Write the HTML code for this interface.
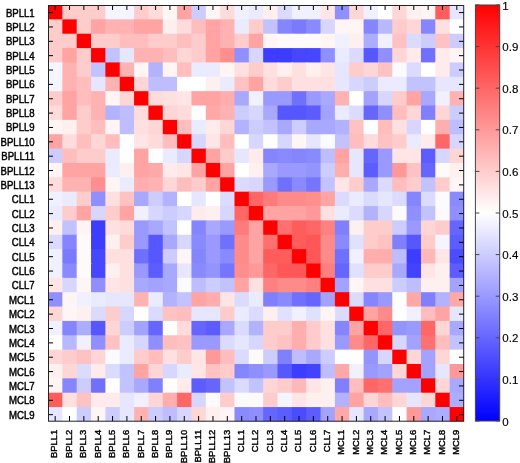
<!DOCTYPE html>
<html><head><meta charset="utf-8"><style>
html,body{margin:0;padding:0;background:#fff;}
body{width:520px;height:463px;overflow:hidden;}
svg{display:block;font-family:"Liberation Sans",sans-serif;font-size:10.5px;fill:#000;filter:blur(0.35px);}
text{stroke:#000;stroke-width:0.45px;}
</style></head><body>
<svg width="520" height="463" viewBox="0 0 520 463">
<rect x="48.00" y="5.00" width="15.34" height="15.36" fill="#ff0000"/>
<rect x="62.34" y="5.00" width="15.34" height="15.36" fill="#ffcccc"/>
<rect x="76.69" y="5.00" width="15.34" height="15.36" fill="#ffcccc"/>
<rect x="91.03" y="5.00" width="15.34" height="15.36" fill="#ffcccc"/>
<rect x="105.38" y="5.00" width="15.34" height="15.36" fill="#f5f5ff"/>
<rect x="119.72" y="5.00" width="15.34" height="15.36" fill="#f5f5ff"/>
<rect x="134.07" y="5.00" width="15.34" height="15.36" fill="#ffcccc"/>
<rect x="148.41" y="5.00" width="15.34" height="15.36" fill="#ffdbdb"/>
<rect x="162.76" y="5.00" width="15.34" height="15.36" fill="#fff5f5"/>
<rect x="177.10" y="5.00" width="15.34" height="15.36" fill="#ffa3a3"/>
<rect x="191.45" y="5.00" width="15.34" height="15.36" fill="#ccccff"/>
<rect x="205.79" y="5.00" width="15.34" height="15.36" fill="#fff5f5"/>
<rect x="220.14" y="5.00" width="15.34" height="15.36" fill="#ffdbdb"/>
<rect x="234.48" y="5.00" width="15.34" height="15.36" fill="#f0f0ff"/>
<rect x="248.83" y="5.00" width="15.34" height="15.36" fill="#ebebff"/>
<rect x="263.17" y="5.00" width="15.34" height="15.36" fill="#fff0f0"/>
<rect x="277.52" y="5.00" width="15.34" height="15.36" fill="#dbdbff"/>
<rect x="291.86" y="5.00" width="15.34" height="15.36" fill="#f0f0ff"/>
<rect x="306.21" y="5.00" width="15.34" height="15.36" fill="#f0f0ff"/>
<rect x="320.55" y="5.00" width="15.34" height="15.36" fill="#ffe5e5"/>
<rect x="334.90" y="5.00" width="15.34" height="15.36" fill="#8f8fff"/>
<rect x="349.24" y="5.00" width="15.34" height="15.36" fill="#ffd6d6"/>
<rect x="363.59" y="5.00" width="15.34" height="15.36" fill="#f0f0ff"/>
<rect x="377.93" y="5.00" width="15.34" height="15.36" fill="#ffffff"/>
<rect x="392.28" y="5.00" width="15.34" height="15.36" fill="#ffd6d6"/>
<rect x="406.62" y="5.00" width="15.34" height="15.36" fill="#fff0f0"/>
<rect x="420.97" y="5.00" width="15.34" height="15.36" fill="#fff5f5"/>
<rect x="435.31" y="5.00" width="15.34" height="15.36" fill="#ff5c5c"/>
<rect x="449.66" y="5.00" width="14.34" height="15.36" fill="#e6e6ff"/>
<rect x="48.00" y="19.36" width="15.34" height="15.36" fill="#ffcccc"/>
<rect x="62.34" y="19.36" width="15.34" height="15.36" fill="#ff0000"/>
<rect x="76.69" y="19.36" width="15.34" height="15.36" fill="#ffcccc"/>
<rect x="91.03" y="19.36" width="15.34" height="15.36" fill="#ffa3a3"/>
<rect x="105.38" y="19.36" width="15.34" height="15.36" fill="#ffb2b2"/>
<rect x="119.72" y="19.36" width="15.34" height="15.36" fill="#ffb2b2"/>
<rect x="134.07" y="19.36" width="15.34" height="15.36" fill="#ffa3a3"/>
<rect x="148.41" y="19.36" width="15.34" height="15.36" fill="#ffa3a3"/>
<rect x="162.76" y="19.36" width="15.34" height="15.36" fill="#fff0f0"/>
<rect x="177.10" y="19.36" width="15.34" height="15.36" fill="#ffdbdb"/>
<rect x="191.45" y="19.36" width="15.34" height="15.36" fill="#ffbdbd"/>
<rect x="205.79" y="19.36" width="15.34" height="15.36" fill="#ffa3a3"/>
<rect x="220.14" y="19.36" width="15.34" height="15.36" fill="#ffb2b2"/>
<rect x="234.48" y="19.36" width="15.34" height="15.36" fill="#ebebff"/>
<rect x="248.83" y="19.36" width="15.34" height="15.36" fill="#ffcccc"/>
<rect x="263.17" y="19.36" width="15.34" height="15.36" fill="#c2c2ff"/>
<rect x="277.52" y="19.36" width="15.34" height="15.36" fill="#8585ff"/>
<rect x="291.86" y="19.36" width="15.34" height="15.36" fill="#7a7aff"/>
<rect x="306.21" y="19.36" width="15.34" height="15.36" fill="#8a8aff"/>
<rect x="320.55" y="19.36" width="15.34" height="15.36" fill="#d6d6ff"/>
<rect x="334.90" y="19.36" width="15.34" height="15.36" fill="#fff5f5"/>
<rect x="349.24" y="19.36" width="15.34" height="15.36" fill="#fff5f5"/>
<rect x="363.59" y="19.36" width="15.34" height="15.36" fill="#8585ff"/>
<rect x="377.93" y="19.36" width="15.34" height="15.36" fill="#b8b8ff"/>
<rect x="392.28" y="19.36" width="15.34" height="15.36" fill="#ffcccc"/>
<rect x="406.62" y="19.36" width="15.34" height="15.36" fill="#ffd6d6"/>
<rect x="420.97" y="19.36" width="15.34" height="15.36" fill="#8585ff"/>
<rect x="435.31" y="19.36" width="15.34" height="15.36" fill="#ffe0e0"/>
<rect x="449.66" y="19.36" width="14.34" height="15.36" fill="#ffffff"/>
<rect x="48.00" y="33.72" width="15.34" height="15.36" fill="#ffcccc"/>
<rect x="62.34" y="33.72" width="15.34" height="15.36" fill="#ffcccc"/>
<rect x="76.69" y="33.72" width="15.34" height="15.36" fill="#ff0000"/>
<rect x="91.03" y="33.72" width="15.34" height="15.36" fill="#ffcccc"/>
<rect x="105.38" y="33.72" width="15.34" height="15.36" fill="#ffcccc"/>
<rect x="119.72" y="33.72" width="15.34" height="15.36" fill="#ffbdbd"/>
<rect x="134.07" y="33.72" width="15.34" height="15.36" fill="#ffbdbd"/>
<rect x="148.41" y="33.72" width="15.34" height="15.36" fill="#ffcccc"/>
<rect x="162.76" y="33.72" width="15.34" height="15.36" fill="#ffcccc"/>
<rect x="177.10" y="33.72" width="15.34" height="15.36" fill="#ffbdbd"/>
<rect x="191.45" y="33.72" width="15.34" height="15.36" fill="#ffcccc"/>
<rect x="205.79" y="33.72" width="15.34" height="15.36" fill="#ffa3a3"/>
<rect x="220.14" y="33.72" width="15.34" height="15.36" fill="#ffb2b2"/>
<rect x="234.48" y="33.72" width="15.34" height="15.36" fill="#ffcccc"/>
<rect x="248.83" y="33.72" width="15.34" height="15.36" fill="#ffa3a3"/>
<rect x="263.17" y="33.72" width="15.34" height="15.36" fill="#fff5f5"/>
<rect x="277.52" y="33.72" width="15.34" height="15.36" fill="#fffafa"/>
<rect x="291.86" y="33.72" width="15.34" height="15.36" fill="#fffafa"/>
<rect x="306.21" y="33.72" width="15.34" height="15.36" fill="#fffafa"/>
<rect x="320.55" y="33.72" width="15.34" height="15.36" fill="#fff5f5"/>
<rect x="334.90" y="33.72" width="15.34" height="15.36" fill="#f0f0ff"/>
<rect x="349.24" y="33.72" width="15.34" height="15.36" fill="#fff0f0"/>
<rect x="363.59" y="33.72" width="15.34" height="15.36" fill="#adadff"/>
<rect x="377.93" y="33.72" width="15.34" height="15.36" fill="#f0f0ff"/>
<rect x="392.28" y="33.72" width="15.34" height="15.36" fill="#ffc2c2"/>
<rect x="406.62" y="33.72" width="15.34" height="15.36" fill="#dbdbff"/>
<rect x="420.97" y="33.72" width="15.34" height="15.36" fill="#ccccff"/>
<rect x="435.31" y="33.72" width="15.34" height="15.36" fill="#ffc2c2"/>
<rect x="449.66" y="33.72" width="14.34" height="15.36" fill="#ccccff"/>
<rect x="48.00" y="48.08" width="15.34" height="15.36" fill="#ffcccc"/>
<rect x="62.34" y="48.08" width="15.34" height="15.36" fill="#ffa3a3"/>
<rect x="76.69" y="48.08" width="15.34" height="15.36" fill="#ffcccc"/>
<rect x="91.03" y="48.08" width="15.34" height="15.36" fill="#ff0000"/>
<rect x="105.38" y="48.08" width="15.34" height="15.36" fill="#c2c2ff"/>
<rect x="119.72" y="48.08" width="15.34" height="15.36" fill="#e6e6ff"/>
<rect x="134.07" y="48.08" width="15.34" height="15.36" fill="#ffb2b2"/>
<rect x="148.41" y="48.08" width="15.34" height="15.36" fill="#ffb2b2"/>
<rect x="162.76" y="48.08" width="15.34" height="15.36" fill="#ffbdbd"/>
<rect x="177.10" y="48.08" width="15.34" height="15.36" fill="#ffd6d6"/>
<rect x="191.45" y="48.08" width="15.34" height="15.36" fill="#ffcccc"/>
<rect x="205.79" y="48.08" width="15.34" height="15.36" fill="#ffa3a3"/>
<rect x="220.14" y="48.08" width="15.34" height="15.36" fill="#ff8f8f"/>
<rect x="234.48" y="48.08" width="15.34" height="15.36" fill="#8f8fff"/>
<rect x="248.83" y="48.08" width="15.34" height="15.36" fill="#d6d6ff"/>
<rect x="263.17" y="48.08" width="15.34" height="15.36" fill="#3d3dff"/>
<rect x="277.52" y="48.08" width="15.34" height="15.36" fill="#3d3dff"/>
<rect x="291.86" y="48.08" width="15.34" height="15.36" fill="#4747ff"/>
<rect x="306.21" y="48.08" width="15.34" height="15.36" fill="#4747ff"/>
<rect x="320.55" y="48.08" width="15.34" height="15.36" fill="#8f8fff"/>
<rect x="334.90" y="48.08" width="15.34" height="15.36" fill="#ebebff"/>
<rect x="349.24" y="48.08" width="15.34" height="15.36" fill="#dbdbff"/>
<rect x="363.59" y="48.08" width="15.34" height="15.36" fill="#5757ff"/>
<rect x="377.93" y="48.08" width="15.34" height="15.36" fill="#8f8fff"/>
<rect x="392.28" y="48.08" width="15.34" height="15.36" fill="#ffd6d6"/>
<rect x="406.62" y="48.08" width="15.34" height="15.36" fill="#ffebeb"/>
<rect x="420.97" y="48.08" width="15.34" height="15.36" fill="#7070ff"/>
<rect x="435.31" y="48.08" width="15.34" height="15.36" fill="#ffebeb"/>
<rect x="449.66" y="48.08" width="14.34" height="15.36" fill="#fff5f5"/>
<rect x="48.00" y="62.44" width="15.34" height="15.36" fill="#f5f5ff"/>
<rect x="62.34" y="62.44" width="15.34" height="15.36" fill="#ffb2b2"/>
<rect x="76.69" y="62.44" width="15.34" height="15.36" fill="#ffcccc"/>
<rect x="91.03" y="62.44" width="15.34" height="15.36" fill="#c2c2ff"/>
<rect x="105.38" y="62.44" width="15.34" height="15.36" fill="#ff0000"/>
<rect x="119.72" y="62.44" width="15.34" height="15.36" fill="#ffb2b2"/>
<rect x="134.07" y="62.44" width="15.34" height="15.36" fill="#fff5f5"/>
<rect x="148.41" y="62.44" width="15.34" height="15.36" fill="#b2b2ff"/>
<rect x="162.76" y="62.44" width="15.34" height="15.36" fill="#fff5f5"/>
<rect x="177.10" y="62.44" width="15.34" height="15.36" fill="#ffbdbd"/>
<rect x="191.45" y="62.44" width="15.34" height="15.36" fill="#ebebff"/>
<rect x="205.79" y="62.44" width="15.34" height="15.36" fill="#ebebff"/>
<rect x="220.14" y="62.44" width="15.34" height="15.36" fill="#fff5f5"/>
<rect x="234.48" y="62.44" width="15.34" height="15.36" fill="#ffe0e0"/>
<rect x="248.83" y="62.44" width="15.34" height="15.36" fill="#ffcccc"/>
<rect x="263.17" y="62.44" width="15.34" height="15.36" fill="#ffe0e0"/>
<rect x="277.52" y="62.44" width="15.34" height="15.36" fill="#fff0f0"/>
<rect x="291.86" y="62.44" width="15.34" height="15.36" fill="#ffe0e0"/>
<rect x="306.21" y="62.44" width="15.34" height="15.36" fill="#fff0f0"/>
<rect x="320.55" y="62.44" width="15.34" height="15.36" fill="#ffe5e5"/>
<rect x="334.90" y="62.44" width="15.34" height="15.36" fill="#e6e6ff"/>
<rect x="349.24" y="62.44" width="15.34" height="15.36" fill="#ffcccc"/>
<rect x="363.59" y="62.44" width="15.34" height="15.36" fill="#ffd6d6"/>
<rect x="377.93" y="62.44" width="15.34" height="15.36" fill="#ffc2c2"/>
<rect x="392.28" y="62.44" width="15.34" height="15.36" fill="#fafaff"/>
<rect x="406.62" y="62.44" width="15.34" height="15.36" fill="#dbdbff"/>
<rect x="420.97" y="62.44" width="15.34" height="15.36" fill="#ffffff"/>
<rect x="435.31" y="62.44" width="15.34" height="15.36" fill="#ffebeb"/>
<rect x="449.66" y="62.44" width="14.34" height="15.36" fill="#ccccff"/>
<rect x="48.00" y="76.80" width="15.34" height="15.36" fill="#f5f5ff"/>
<rect x="62.34" y="76.80" width="15.34" height="15.36" fill="#ffb2b2"/>
<rect x="76.69" y="76.80" width="15.34" height="15.36" fill="#ffbdbd"/>
<rect x="91.03" y="76.80" width="15.34" height="15.36" fill="#e6e6ff"/>
<rect x="105.38" y="76.80" width="15.34" height="15.36" fill="#ffb2b2"/>
<rect x="119.72" y="76.80" width="15.34" height="15.36" fill="#ff0000"/>
<rect x="134.07" y="76.80" width="15.34" height="15.36" fill="#ffd6d6"/>
<rect x="148.41" y="76.80" width="15.34" height="15.36" fill="#bdbdff"/>
<rect x="162.76" y="76.80" width="15.34" height="15.36" fill="#bdbdff"/>
<rect x="177.10" y="76.80" width="15.34" height="15.36" fill="#ffffff"/>
<rect x="191.45" y="76.80" width="15.34" height="15.36" fill="#ffffff"/>
<rect x="205.79" y="76.80" width="15.34" height="15.36" fill="#fff0f0"/>
<rect x="220.14" y="76.80" width="15.34" height="15.36" fill="#ebebff"/>
<rect x="234.48" y="76.80" width="15.34" height="15.36" fill="#ffc2c2"/>
<rect x="248.83" y="76.80" width="15.34" height="15.36" fill="#ffa3a3"/>
<rect x="263.17" y="76.80" width="15.34" height="15.36" fill="#ffdbdb"/>
<rect x="277.52" y="76.80" width="15.34" height="15.36" fill="#ffcccc"/>
<rect x="291.86" y="76.80" width="15.34" height="15.36" fill="#ffe0e0"/>
<rect x="306.21" y="76.80" width="15.34" height="15.36" fill="#ffe0e0"/>
<rect x="320.55" y="76.80" width="15.34" height="15.36" fill="#ffe0e0"/>
<rect x="334.90" y="76.80" width="15.34" height="15.36" fill="#e6e6ff"/>
<rect x="349.24" y="76.80" width="15.34" height="15.36" fill="#d6d6ff"/>
<rect x="363.59" y="76.80" width="15.34" height="15.36" fill="#ccccff"/>
<rect x="377.93" y="76.80" width="15.34" height="15.36" fill="#ebebff"/>
<rect x="392.28" y="76.80" width="15.34" height="15.36" fill="#ebebff"/>
<rect x="406.62" y="76.80" width="15.34" height="15.36" fill="#c2c2ff"/>
<rect x="420.97" y="76.80" width="15.34" height="15.36" fill="#c2c2ff"/>
<rect x="435.31" y="76.80" width="15.34" height="15.36" fill="#e6e6ff"/>
<rect x="449.66" y="76.80" width="14.34" height="15.36" fill="#e6e6ff"/>
<rect x="48.00" y="91.16" width="15.34" height="15.36" fill="#ffcccc"/>
<rect x="62.34" y="91.16" width="15.34" height="15.36" fill="#ffa3a3"/>
<rect x="76.69" y="91.16" width="15.34" height="15.36" fill="#ffbdbd"/>
<rect x="91.03" y="91.16" width="15.34" height="15.36" fill="#ffb2b2"/>
<rect x="105.38" y="91.16" width="15.34" height="15.36" fill="#fff5f5"/>
<rect x="119.72" y="91.16" width="15.34" height="15.36" fill="#ffd6d6"/>
<rect x="134.07" y="91.16" width="15.34" height="15.36" fill="#ff0000"/>
<rect x="148.41" y="91.16" width="15.34" height="15.36" fill="#ffdbdb"/>
<rect x="162.76" y="91.16" width="15.34" height="15.36" fill="#ffe0e0"/>
<rect x="177.10" y="91.16" width="15.34" height="15.36" fill="#ffe5e5"/>
<rect x="191.45" y="91.16" width="15.34" height="15.36" fill="#ffa3a3"/>
<rect x="205.79" y="91.16" width="15.34" height="15.36" fill="#ffa3a3"/>
<rect x="220.14" y="91.16" width="15.34" height="15.36" fill="#ffadad"/>
<rect x="234.48" y="91.16" width="15.34" height="15.36" fill="#a8a8ff"/>
<rect x="248.83" y="91.16" width="15.34" height="15.36" fill="#f0f0ff"/>
<rect x="263.17" y="91.16" width="15.34" height="15.36" fill="#9999ff"/>
<rect x="277.52" y="91.16" width="15.34" height="15.36" fill="#9999ff"/>
<rect x="291.86" y="91.16" width="15.34" height="15.36" fill="#7070ff"/>
<rect x="306.21" y="91.16" width="15.34" height="15.36" fill="#9999ff"/>
<rect x="320.55" y="91.16" width="15.34" height="15.36" fill="#a8a8ff"/>
<rect x="334.90" y="91.16" width="15.34" height="15.36" fill="#ffb2b2"/>
<rect x="349.24" y="91.16" width="15.34" height="15.36" fill="#ffffff"/>
<rect x="363.59" y="91.16" width="15.34" height="15.36" fill="#a3a3ff"/>
<rect x="377.93" y="91.16" width="15.34" height="15.36" fill="#d6d6ff"/>
<rect x="392.28" y="91.16" width="15.34" height="15.36" fill="#ffcccc"/>
<rect x="406.62" y="91.16" width="15.34" height="15.36" fill="#ffa3a3"/>
<rect x="420.97" y="91.16" width="15.34" height="15.36" fill="#a8a8ff"/>
<rect x="435.31" y="91.16" width="15.34" height="15.36" fill="#f0f0ff"/>
<rect x="449.66" y="91.16" width="14.34" height="15.36" fill="#ffb2b2"/>
<rect x="48.00" y="105.52" width="15.34" height="15.36" fill="#ffdbdb"/>
<rect x="62.34" y="105.52" width="15.34" height="15.36" fill="#ffa3a3"/>
<rect x="76.69" y="105.52" width="15.34" height="15.36" fill="#ffcccc"/>
<rect x="91.03" y="105.52" width="15.34" height="15.36" fill="#ffb2b2"/>
<rect x="105.38" y="105.52" width="15.34" height="15.36" fill="#b2b2ff"/>
<rect x="119.72" y="105.52" width="15.34" height="15.36" fill="#bdbdff"/>
<rect x="134.07" y="105.52" width="15.34" height="15.36" fill="#ffdbdb"/>
<rect x="148.41" y="105.52" width="15.34" height="15.36" fill="#ff0000"/>
<rect x="162.76" y="105.52" width="15.34" height="15.36" fill="#ffd6d6"/>
<rect x="177.10" y="105.52" width="15.34" height="15.36" fill="#ffdbdb"/>
<rect x="191.45" y="105.52" width="15.34" height="15.36" fill="#ffffff"/>
<rect x="205.79" y="105.52" width="15.34" height="15.36" fill="#ffa8a8"/>
<rect x="220.14" y="105.52" width="15.34" height="15.36" fill="#ffb2b2"/>
<rect x="234.48" y="105.52" width="15.34" height="15.36" fill="#ccccff"/>
<rect x="248.83" y="105.52" width="15.34" height="15.36" fill="#d6d6ff"/>
<rect x="263.17" y="105.52" width="15.34" height="15.36" fill="#a8a8ff"/>
<rect x="277.52" y="105.52" width="15.34" height="15.36" fill="#5757ff"/>
<rect x="291.86" y="105.52" width="15.34" height="15.36" fill="#5757ff"/>
<rect x="306.21" y="105.52" width="15.34" height="15.36" fill="#5c5cff"/>
<rect x="320.55" y="105.52" width="15.34" height="15.36" fill="#a3a3ff"/>
<rect x="334.90" y="105.52" width="15.34" height="15.36" fill="#ebebff"/>
<rect x="349.24" y="105.52" width="15.34" height="15.36" fill="#dbdbff"/>
<rect x="363.59" y="105.52" width="15.34" height="15.36" fill="#6666ff"/>
<rect x="377.93" y="105.52" width="15.34" height="15.36" fill="#8f8fff"/>
<rect x="392.28" y="105.52" width="15.34" height="15.36" fill="#ffbdbd"/>
<rect x="406.62" y="105.52" width="15.34" height="15.36" fill="#ffd6d6"/>
<rect x="420.97" y="105.52" width="15.34" height="15.36" fill="#8080ff"/>
<rect x="435.31" y="105.52" width="15.34" height="15.36" fill="#ffd6d6"/>
<rect x="449.66" y="105.52" width="14.34" height="15.36" fill="#ccccff"/>
<rect x="48.00" y="119.88" width="15.34" height="15.36" fill="#fff5f5"/>
<rect x="62.34" y="119.88" width="15.34" height="15.36" fill="#fff0f0"/>
<rect x="76.69" y="119.88" width="15.34" height="15.36" fill="#ffcccc"/>
<rect x="91.03" y="119.88" width="15.34" height="15.36" fill="#ffbdbd"/>
<rect x="105.38" y="119.88" width="15.34" height="15.36" fill="#fff5f5"/>
<rect x="119.72" y="119.88" width="15.34" height="15.36" fill="#bdbdff"/>
<rect x="134.07" y="119.88" width="15.34" height="15.36" fill="#ffe0e0"/>
<rect x="148.41" y="119.88" width="15.34" height="15.36" fill="#ffd6d6"/>
<rect x="162.76" y="119.88" width="15.34" height="15.36" fill="#ff0000"/>
<rect x="177.10" y="119.88" width="15.34" height="15.36" fill="#ffbdbd"/>
<rect x="191.45" y="119.88" width="15.34" height="15.36" fill="#ebebff"/>
<rect x="205.79" y="119.88" width="15.34" height="15.36" fill="#ffebeb"/>
<rect x="220.14" y="119.88" width="15.34" height="15.36" fill="#ffd6d6"/>
<rect x="234.48" y="119.88" width="15.34" height="15.36" fill="#b2b2ff"/>
<rect x="248.83" y="119.88" width="15.34" height="15.36" fill="#ccccff"/>
<rect x="263.17" y="119.88" width="15.34" height="15.36" fill="#c2c2ff"/>
<rect x="277.52" y="119.88" width="15.34" height="15.36" fill="#a8a8ff"/>
<rect x="291.86" y="119.88" width="15.34" height="15.36" fill="#ccccff"/>
<rect x="306.21" y="119.88" width="15.34" height="15.36" fill="#a8a8ff"/>
<rect x="320.55" y="119.88" width="15.34" height="15.36" fill="#a8a8ff"/>
<rect x="334.90" y="119.88" width="15.34" height="15.36" fill="#b2b2ff"/>
<rect x="349.24" y="119.88" width="15.34" height="15.36" fill="#ffc2c2"/>
<rect x="363.59" y="119.88" width="15.34" height="15.36" fill="#ffffff"/>
<rect x="377.93" y="119.88" width="15.34" height="15.36" fill="#ffbdbd"/>
<rect x="392.28" y="119.88" width="15.34" height="15.36" fill="#ffe0e0"/>
<rect x="406.62" y="119.88" width="15.34" height="15.36" fill="#d6d6ff"/>
<rect x="420.97" y="119.88" width="15.34" height="15.36" fill="#ffffff"/>
<rect x="435.31" y="119.88" width="15.34" height="15.36" fill="#ffadad"/>
<rect x="449.66" y="119.88" width="14.34" height="15.36" fill="#bdbdff"/>
<rect x="48.00" y="134.24" width="15.34" height="15.36" fill="#ffa3a3"/>
<rect x="62.34" y="134.24" width="15.34" height="15.36" fill="#ffdbdb"/>
<rect x="76.69" y="134.24" width="15.34" height="15.36" fill="#ffbdbd"/>
<rect x="91.03" y="134.24" width="15.34" height="15.36" fill="#ffd6d6"/>
<rect x="105.38" y="134.24" width="15.34" height="15.36" fill="#ffbdbd"/>
<rect x="119.72" y="134.24" width="15.34" height="15.36" fill="#ffffff"/>
<rect x="134.07" y="134.24" width="15.34" height="15.36" fill="#ffe5e5"/>
<rect x="148.41" y="134.24" width="15.34" height="15.36" fill="#ffdbdb"/>
<rect x="162.76" y="134.24" width="15.34" height="15.36" fill="#ffbdbd"/>
<rect x="177.10" y="134.24" width="15.34" height="15.36" fill="#ff0000"/>
<rect x="191.45" y="134.24" width="15.34" height="15.36" fill="#d6d6ff"/>
<rect x="205.79" y="134.24" width="15.34" height="15.36" fill="#ffe5e5"/>
<rect x="220.14" y="134.24" width="15.34" height="15.36" fill="#ffbdbd"/>
<rect x="234.48" y="134.24" width="15.34" height="15.36" fill="#ffffff"/>
<rect x="248.83" y="134.24" width="15.34" height="15.36" fill="#d6d6ff"/>
<rect x="263.17" y="134.24" width="15.34" height="15.36" fill="#ffffff"/>
<rect x="277.52" y="134.24" width="15.34" height="15.36" fill="#d6d6ff"/>
<rect x="291.86" y="134.24" width="15.34" height="15.36" fill="#fff5f5"/>
<rect x="306.21" y="134.24" width="15.34" height="15.36" fill="#e6e6ff"/>
<rect x="320.55" y="134.24" width="15.34" height="15.36" fill="#fafaff"/>
<rect x="334.90" y="134.24" width="15.34" height="15.36" fill="#c2c2ff"/>
<rect x="349.24" y="134.24" width="15.34" height="15.36" fill="#ffbdbd"/>
<rect x="363.59" y="134.24" width="15.34" height="15.36" fill="#ffdbdb"/>
<rect x="377.93" y="134.24" width="15.34" height="15.36" fill="#ffc2c2"/>
<rect x="392.28" y="134.24" width="15.34" height="15.36" fill="#ffcccc"/>
<rect x="406.62" y="134.24" width="15.34" height="15.36" fill="#ebebff"/>
<rect x="420.97" y="134.24" width="15.34" height="15.36" fill="#ffebeb"/>
<rect x="435.31" y="134.24" width="15.34" height="15.36" fill="#ff6666"/>
<rect x="449.66" y="134.24" width="14.34" height="15.36" fill="#d6d6ff"/>
<rect x="48.00" y="148.60" width="15.34" height="15.36" fill="#ccccff"/>
<rect x="62.34" y="148.60" width="15.34" height="15.36" fill="#ffbdbd"/>
<rect x="76.69" y="148.60" width="15.34" height="15.36" fill="#ffcccc"/>
<rect x="91.03" y="148.60" width="15.34" height="15.36" fill="#ffcccc"/>
<rect x="105.38" y="148.60" width="15.34" height="15.36" fill="#ebebff"/>
<rect x="119.72" y="148.60" width="15.34" height="15.36" fill="#ffffff"/>
<rect x="134.07" y="148.60" width="15.34" height="15.36" fill="#ffa3a3"/>
<rect x="148.41" y="148.60" width="15.34" height="15.36" fill="#ffffff"/>
<rect x="162.76" y="148.60" width="15.34" height="15.36" fill="#ebebff"/>
<rect x="177.10" y="148.60" width="15.34" height="15.36" fill="#d6d6ff"/>
<rect x="191.45" y="148.60" width="15.34" height="15.36" fill="#ff0000"/>
<rect x="205.79" y="148.60" width="15.34" height="15.36" fill="#ffa3a3"/>
<rect x="220.14" y="148.60" width="15.34" height="15.36" fill="#ffcccc"/>
<rect x="234.48" y="148.60" width="15.34" height="15.36" fill="#e6e6ff"/>
<rect x="248.83" y="148.60" width="15.34" height="15.36" fill="#ffebeb"/>
<rect x="263.17" y="148.60" width="15.34" height="15.36" fill="#8585ff"/>
<rect x="277.52" y="148.60" width="15.34" height="15.36" fill="#8a8aff"/>
<rect x="291.86" y="148.60" width="15.34" height="15.36" fill="#8585ff"/>
<rect x="306.21" y="148.60" width="15.34" height="15.36" fill="#8a8aff"/>
<rect x="320.55" y="148.60" width="15.34" height="15.36" fill="#bdbdff"/>
<rect x="334.90" y="148.60" width="15.34" height="15.36" fill="#ffa3a3"/>
<rect x="349.24" y="148.60" width="15.34" height="15.36" fill="#e6e6ff"/>
<rect x="363.59" y="148.60" width="15.34" height="15.36" fill="#6666ff"/>
<rect x="377.93" y="148.60" width="15.34" height="15.36" fill="#9999ff"/>
<rect x="392.28" y="148.60" width="15.34" height="15.36" fill="#ffe5e5"/>
<rect x="406.62" y="148.60" width="15.34" height="15.36" fill="#ffe5e5"/>
<rect x="420.97" y="148.60" width="15.34" height="15.36" fill="#5c5cff"/>
<rect x="435.31" y="148.60" width="15.34" height="15.36" fill="#d6d6ff"/>
<rect x="449.66" y="148.60" width="14.34" height="15.36" fill="#ffd6d6"/>
<rect x="48.00" y="162.96" width="15.34" height="15.36" fill="#fff5f5"/>
<rect x="62.34" y="162.96" width="15.34" height="15.36" fill="#ffa3a3"/>
<rect x="76.69" y="162.96" width="15.34" height="15.36" fill="#ffa3a3"/>
<rect x="91.03" y="162.96" width="15.34" height="15.36" fill="#ffa3a3"/>
<rect x="105.38" y="162.96" width="15.34" height="15.36" fill="#ebebff"/>
<rect x="119.72" y="162.96" width="15.34" height="15.36" fill="#fff0f0"/>
<rect x="134.07" y="162.96" width="15.34" height="15.36" fill="#ffa3a3"/>
<rect x="148.41" y="162.96" width="15.34" height="15.36" fill="#ffa8a8"/>
<rect x="162.76" y="162.96" width="15.34" height="15.36" fill="#ffebeb"/>
<rect x="177.10" y="162.96" width="15.34" height="15.36" fill="#ffe5e5"/>
<rect x="191.45" y="162.96" width="15.34" height="15.36" fill="#ffa3a3"/>
<rect x="205.79" y="162.96" width="15.34" height="15.36" fill="#ff0000"/>
<rect x="220.14" y="162.96" width="15.34" height="15.36" fill="#ffa3a3"/>
<rect x="234.48" y="162.96" width="15.34" height="15.36" fill="#ffffff"/>
<rect x="248.83" y="162.96" width="15.34" height="15.36" fill="#fff0f0"/>
<rect x="263.17" y="162.96" width="15.34" height="15.36" fill="#a8a8ff"/>
<rect x="277.52" y="162.96" width="15.34" height="15.36" fill="#9999ff"/>
<rect x="291.86" y="162.96" width="15.34" height="15.36" fill="#9999ff"/>
<rect x="306.21" y="162.96" width="15.34" height="15.36" fill="#9494ff"/>
<rect x="320.55" y="162.96" width="15.34" height="15.36" fill="#ccccff"/>
<rect x="334.90" y="162.96" width="15.34" height="15.36" fill="#ffadad"/>
<rect x="349.24" y="162.96" width="15.34" height="15.36" fill="#e6e6ff"/>
<rect x="363.59" y="162.96" width="15.34" height="15.36" fill="#5c5cff"/>
<rect x="377.93" y="162.96" width="15.34" height="15.36" fill="#9999ff"/>
<rect x="392.28" y="162.96" width="15.34" height="15.36" fill="#ff9999"/>
<rect x="406.62" y="162.96" width="15.34" height="15.36" fill="#ffc2c2"/>
<rect x="420.97" y="162.96" width="15.34" height="15.36" fill="#6666ff"/>
<rect x="435.31" y="162.96" width="15.34" height="15.36" fill="#fffafa"/>
<rect x="449.66" y="162.96" width="14.34" height="15.36" fill="#fff0f0"/>
<rect x="48.00" y="177.32" width="15.34" height="15.36" fill="#ffdbdb"/>
<rect x="62.34" y="177.32" width="15.34" height="15.36" fill="#ffb2b2"/>
<rect x="76.69" y="177.32" width="15.34" height="15.36" fill="#ffb2b2"/>
<rect x="91.03" y="177.32" width="15.34" height="15.36" fill="#ff8f8f"/>
<rect x="105.38" y="177.32" width="15.34" height="15.36" fill="#fff5f5"/>
<rect x="119.72" y="177.32" width="15.34" height="15.36" fill="#ebebff"/>
<rect x="134.07" y="177.32" width="15.34" height="15.36" fill="#ffadad"/>
<rect x="148.41" y="177.32" width="15.34" height="15.36" fill="#ffb2b2"/>
<rect x="162.76" y="177.32" width="15.34" height="15.36" fill="#ffd6d6"/>
<rect x="177.10" y="177.32" width="15.34" height="15.36" fill="#ffbdbd"/>
<rect x="191.45" y="177.32" width="15.34" height="15.36" fill="#ffcccc"/>
<rect x="205.79" y="177.32" width="15.34" height="15.36" fill="#ffa3a3"/>
<rect x="220.14" y="177.32" width="15.34" height="15.36" fill="#ff0000"/>
<rect x="234.48" y="177.32" width="15.34" height="15.36" fill="#dbdbff"/>
<rect x="248.83" y="177.32" width="15.34" height="15.36" fill="#d6d6ff"/>
<rect x="263.17" y="177.32" width="15.34" height="15.36" fill="#9999ff"/>
<rect x="277.52" y="177.32" width="15.34" height="15.36" fill="#7070ff"/>
<rect x="291.86" y="177.32" width="15.34" height="15.36" fill="#8a8aff"/>
<rect x="306.21" y="177.32" width="15.34" height="15.36" fill="#7575ff"/>
<rect x="320.55" y="177.32" width="15.34" height="15.36" fill="#c2c2ff"/>
<rect x="334.90" y="177.32" width="15.34" height="15.36" fill="#ffe5e5"/>
<rect x="349.24" y="177.32" width="15.34" height="15.36" fill="#ffcccc"/>
<rect x="363.59" y="177.32" width="15.34" height="15.36" fill="#a8a8ff"/>
<rect x="377.93" y="177.32" width="15.34" height="15.36" fill="#dbdbff"/>
<rect x="392.28" y="177.32" width="15.34" height="15.36" fill="#ffbdbd"/>
<rect x="406.62" y="177.32" width="15.34" height="15.36" fill="#ffcccc"/>
<rect x="420.97" y="177.32" width="15.34" height="15.36" fill="#c2c2ff"/>
<rect x="435.31" y="177.32" width="15.34" height="15.36" fill="#ffcccc"/>
<rect x="449.66" y="177.32" width="14.34" height="15.36" fill="#fff5f5"/>
<rect x="48.00" y="191.68" width="15.34" height="15.36" fill="#f0f0ff"/>
<rect x="62.34" y="191.68" width="15.34" height="15.36" fill="#ebebff"/>
<rect x="76.69" y="191.68" width="15.34" height="15.36" fill="#ffcccc"/>
<rect x="91.03" y="191.68" width="15.34" height="15.36" fill="#8f8fff"/>
<rect x="105.38" y="191.68" width="15.34" height="15.36" fill="#ffe0e0"/>
<rect x="119.72" y="191.68" width="15.34" height="15.36" fill="#ffc2c2"/>
<rect x="134.07" y="191.68" width="15.34" height="15.36" fill="#a8a8ff"/>
<rect x="148.41" y="191.68" width="15.34" height="15.36" fill="#ccccff"/>
<rect x="162.76" y="191.68" width="15.34" height="15.36" fill="#b2b2ff"/>
<rect x="177.10" y="191.68" width="15.34" height="15.36" fill="#ffffff"/>
<rect x="191.45" y="191.68" width="15.34" height="15.36" fill="#e6e6ff"/>
<rect x="205.79" y="191.68" width="15.34" height="15.36" fill="#ffffff"/>
<rect x="220.14" y="191.68" width="15.34" height="15.36" fill="#dbdbff"/>
<rect x="234.48" y="191.68" width="15.34" height="15.36" fill="#ff0000"/>
<rect x="248.83" y="191.68" width="15.34" height="15.36" fill="#ff6666"/>
<rect x="263.17" y="191.68" width="15.34" height="15.36" fill="#ff7a7a"/>
<rect x="277.52" y="191.68" width="15.34" height="15.36" fill="#ff8a8a"/>
<rect x="291.86" y="191.68" width="15.34" height="15.36" fill="#ff8a8a"/>
<rect x="306.21" y="191.68" width="15.34" height="15.36" fill="#ff8f8f"/>
<rect x="320.55" y="191.68" width="15.34" height="15.36" fill="#ffa3a3"/>
<rect x="334.90" y="191.68" width="15.34" height="15.36" fill="#dbdbff"/>
<rect x="349.24" y="191.68" width="15.34" height="15.36" fill="#ebebff"/>
<rect x="363.59" y="191.68" width="15.34" height="15.36" fill="#dbdbff"/>
<rect x="377.93" y="191.68" width="15.34" height="15.36" fill="#e6e6ff"/>
<rect x="392.28" y="191.68" width="15.34" height="15.36" fill="#dbdbff"/>
<rect x="406.62" y="191.68" width="15.34" height="15.36" fill="#8585ff"/>
<rect x="420.97" y="191.68" width="15.34" height="15.36" fill="#dbdbff"/>
<rect x="435.31" y="191.68" width="15.34" height="15.36" fill="#fafaff"/>
<rect x="449.66" y="191.68" width="14.34" height="15.36" fill="#8a8aff"/>
<rect x="48.00" y="206.04" width="15.34" height="15.36" fill="#ebebff"/>
<rect x="62.34" y="206.04" width="15.34" height="15.36" fill="#ffcccc"/>
<rect x="76.69" y="206.04" width="15.34" height="15.36" fill="#ffa3a3"/>
<rect x="91.03" y="206.04" width="15.34" height="15.36" fill="#d6d6ff"/>
<rect x="105.38" y="206.04" width="15.34" height="15.36" fill="#ffcccc"/>
<rect x="119.72" y="206.04" width="15.34" height="15.36" fill="#ffa3a3"/>
<rect x="134.07" y="206.04" width="15.34" height="15.36" fill="#f0f0ff"/>
<rect x="148.41" y="206.04" width="15.34" height="15.36" fill="#d6d6ff"/>
<rect x="162.76" y="206.04" width="15.34" height="15.36" fill="#ccccff"/>
<rect x="177.10" y="206.04" width="15.34" height="15.36" fill="#d6d6ff"/>
<rect x="191.45" y="206.04" width="15.34" height="15.36" fill="#ffebeb"/>
<rect x="205.79" y="206.04" width="15.34" height="15.36" fill="#fff0f0"/>
<rect x="220.14" y="206.04" width="15.34" height="15.36" fill="#d6d6ff"/>
<rect x="234.48" y="206.04" width="15.34" height="15.36" fill="#ff6666"/>
<rect x="248.83" y="206.04" width="15.34" height="15.36" fill="#ff0000"/>
<rect x="263.17" y="206.04" width="15.34" height="15.36" fill="#ffa3a3"/>
<rect x="277.52" y="206.04" width="15.34" height="15.36" fill="#ffa3a3"/>
<rect x="291.86" y="206.04" width="15.34" height="15.36" fill="#ffa3a3"/>
<rect x="306.21" y="206.04" width="15.34" height="15.36" fill="#ff9999"/>
<rect x="320.55" y="206.04" width="15.34" height="15.36" fill="#ffe0e0"/>
<rect x="334.90" y="206.04" width="15.34" height="15.36" fill="#ebebff"/>
<rect x="349.24" y="206.04" width="15.34" height="15.36" fill="#dbdbff"/>
<rect x="363.59" y="206.04" width="15.34" height="15.36" fill="#b2b2ff"/>
<rect x="377.93" y="206.04" width="15.34" height="15.36" fill="#d6d6ff"/>
<rect x="392.28" y="206.04" width="15.34" height="15.36" fill="#fffafa"/>
<rect x="406.62" y="206.04" width="15.34" height="15.36" fill="#8f8fff"/>
<rect x="420.97" y="206.04" width="15.34" height="15.36" fill="#c2c2ff"/>
<rect x="435.31" y="206.04" width="15.34" height="15.36" fill="#fffafa"/>
<rect x="449.66" y="206.04" width="14.34" height="15.36" fill="#8f8fff"/>
<rect x="48.00" y="220.40" width="15.34" height="15.36" fill="#fff0f0"/>
<rect x="62.34" y="220.40" width="15.34" height="15.36" fill="#c2c2ff"/>
<rect x="76.69" y="220.40" width="15.34" height="15.36" fill="#fff5f5"/>
<rect x="91.03" y="220.40" width="15.34" height="15.36" fill="#3d3dff"/>
<rect x="105.38" y="220.40" width="15.34" height="15.36" fill="#ffe0e0"/>
<rect x="119.72" y="220.40" width="15.34" height="15.36" fill="#ffdbdb"/>
<rect x="134.07" y="220.40" width="15.34" height="15.36" fill="#9999ff"/>
<rect x="148.41" y="220.40" width="15.34" height="15.36" fill="#a8a8ff"/>
<rect x="162.76" y="220.40" width="15.34" height="15.36" fill="#c2c2ff"/>
<rect x="177.10" y="220.40" width="15.34" height="15.36" fill="#ffffff"/>
<rect x="191.45" y="220.40" width="15.34" height="15.36" fill="#8585ff"/>
<rect x="205.79" y="220.40" width="15.34" height="15.36" fill="#a8a8ff"/>
<rect x="220.14" y="220.40" width="15.34" height="15.36" fill="#9999ff"/>
<rect x="234.48" y="220.40" width="15.34" height="15.36" fill="#ff7a7a"/>
<rect x="248.83" y="220.40" width="15.34" height="15.36" fill="#ffa3a3"/>
<rect x="263.17" y="220.40" width="15.34" height="15.36" fill="#ff0000"/>
<rect x="277.52" y="220.40" width="15.34" height="15.36" fill="#ff7070"/>
<rect x="291.86" y="220.40" width="15.34" height="15.36" fill="#ff5c5c"/>
<rect x="306.21" y="220.40" width="15.34" height="15.36" fill="#ff6666"/>
<rect x="320.55" y="220.40" width="15.34" height="15.36" fill="#ff8080"/>
<rect x="334.90" y="220.40" width="15.34" height="15.36" fill="#8080ff"/>
<rect x="349.24" y="220.40" width="15.34" height="15.36" fill="#fff0f0"/>
<rect x="363.59" y="220.40" width="15.34" height="15.36" fill="#ffcccc"/>
<rect x="377.93" y="220.40" width="15.34" height="15.36" fill="#ffcccc"/>
<rect x="392.28" y="220.40" width="15.34" height="15.36" fill="#ccccff"/>
<rect x="406.62" y="220.40" width="15.34" height="15.36" fill="#9999ff"/>
<rect x="420.97" y="220.40" width="15.34" height="15.36" fill="#ffd6d6"/>
<rect x="435.31" y="220.40" width="15.34" height="15.36" fill="#ffcccc"/>
<rect x="449.66" y="220.40" width="14.34" height="15.36" fill="#6666ff"/>
<rect x="48.00" y="234.76" width="15.34" height="15.36" fill="#dbdbff"/>
<rect x="62.34" y="234.76" width="15.34" height="15.36" fill="#8585ff"/>
<rect x="76.69" y="234.76" width="15.34" height="15.36" fill="#fffafa"/>
<rect x="91.03" y="234.76" width="15.34" height="15.36" fill="#3d3dff"/>
<rect x="105.38" y="234.76" width="15.34" height="15.36" fill="#fff0f0"/>
<rect x="119.72" y="234.76" width="15.34" height="15.36" fill="#ffcccc"/>
<rect x="134.07" y="234.76" width="15.34" height="15.36" fill="#9999ff"/>
<rect x="148.41" y="234.76" width="15.34" height="15.36" fill="#5757ff"/>
<rect x="162.76" y="234.76" width="15.34" height="15.36" fill="#a8a8ff"/>
<rect x="177.10" y="234.76" width="15.34" height="15.36" fill="#d6d6ff"/>
<rect x="191.45" y="234.76" width="15.34" height="15.36" fill="#8a8aff"/>
<rect x="205.79" y="234.76" width="15.34" height="15.36" fill="#9999ff"/>
<rect x="220.14" y="234.76" width="15.34" height="15.36" fill="#7070ff"/>
<rect x="234.48" y="234.76" width="15.34" height="15.36" fill="#ff8a8a"/>
<rect x="248.83" y="234.76" width="15.34" height="15.36" fill="#ffa3a3"/>
<rect x="263.17" y="234.76" width="15.34" height="15.36" fill="#ff7070"/>
<rect x="277.52" y="234.76" width="15.34" height="15.36" fill="#ff0000"/>
<rect x="291.86" y="234.76" width="15.34" height="15.36" fill="#ff5c5c"/>
<rect x="306.21" y="234.76" width="15.34" height="15.36" fill="#ff5757"/>
<rect x="320.55" y="234.76" width="15.34" height="15.36" fill="#ff8a8a"/>
<rect x="334.90" y="234.76" width="15.34" height="15.36" fill="#8a8aff"/>
<rect x="349.24" y="234.76" width="15.34" height="15.36" fill="#e0e0ff"/>
<rect x="363.59" y="234.76" width="15.34" height="15.36" fill="#ffcccc"/>
<rect x="377.93" y="234.76" width="15.34" height="15.36" fill="#ffc2c2"/>
<rect x="392.28" y="234.76" width="15.34" height="15.36" fill="#8080ff"/>
<rect x="406.62" y="234.76" width="15.34" height="15.36" fill="#5757ff"/>
<rect x="420.97" y="234.76" width="15.34" height="15.36" fill="#ffcccc"/>
<rect x="435.31" y="234.76" width="15.34" height="15.36" fill="#f5f5ff"/>
<rect x="449.66" y="234.76" width="14.34" height="15.36" fill="#5c5cff"/>
<rect x="48.00" y="249.12" width="15.34" height="15.36" fill="#f0f0ff"/>
<rect x="62.34" y="249.12" width="15.34" height="15.36" fill="#7a7aff"/>
<rect x="76.69" y="249.12" width="15.34" height="15.36" fill="#fffafa"/>
<rect x="91.03" y="249.12" width="15.34" height="15.36" fill="#4747ff"/>
<rect x="105.38" y="249.12" width="15.34" height="15.36" fill="#ffe0e0"/>
<rect x="119.72" y="249.12" width="15.34" height="15.36" fill="#ffe0e0"/>
<rect x="134.07" y="249.12" width="15.34" height="15.36" fill="#7070ff"/>
<rect x="148.41" y="249.12" width="15.34" height="15.36" fill="#5757ff"/>
<rect x="162.76" y="249.12" width="15.34" height="15.36" fill="#ccccff"/>
<rect x="177.10" y="249.12" width="15.34" height="15.36" fill="#fff5f5"/>
<rect x="191.45" y="249.12" width="15.34" height="15.36" fill="#8585ff"/>
<rect x="205.79" y="249.12" width="15.34" height="15.36" fill="#9999ff"/>
<rect x="220.14" y="249.12" width="15.34" height="15.36" fill="#8a8aff"/>
<rect x="234.48" y="249.12" width="15.34" height="15.36" fill="#ff8a8a"/>
<rect x="248.83" y="249.12" width="15.34" height="15.36" fill="#ffa3a3"/>
<rect x="263.17" y="249.12" width="15.34" height="15.36" fill="#ff5c5c"/>
<rect x="277.52" y="249.12" width="15.34" height="15.36" fill="#ff5c5c"/>
<rect x="291.86" y="249.12" width="15.34" height="15.36" fill="#ff0000"/>
<rect x="306.21" y="249.12" width="15.34" height="15.36" fill="#ff5757"/>
<rect x="320.55" y="249.12" width="15.34" height="15.36" fill="#ff8a8a"/>
<rect x="334.90" y="249.12" width="15.34" height="15.36" fill="#7070ff"/>
<rect x="349.24" y="249.12" width="15.34" height="15.36" fill="#f0f0ff"/>
<rect x="363.59" y="249.12" width="15.34" height="15.36" fill="#ffadad"/>
<rect x="377.93" y="249.12" width="15.34" height="15.36" fill="#ffadad"/>
<rect x="392.28" y="249.12" width="15.34" height="15.36" fill="#bdbdff"/>
<rect x="406.62" y="249.12" width="15.34" height="15.36" fill="#3d3dff"/>
<rect x="420.97" y="249.12" width="15.34" height="15.36" fill="#ffb8b8"/>
<rect x="435.31" y="249.12" width="15.34" height="15.36" fill="#ffe5e5"/>
<rect x="449.66" y="249.12" width="14.34" height="15.36" fill="#4c4cff"/>
<rect x="48.00" y="263.48" width="15.34" height="15.36" fill="#f0f0ff"/>
<rect x="62.34" y="263.48" width="15.34" height="15.36" fill="#8a8aff"/>
<rect x="76.69" y="263.48" width="15.34" height="15.36" fill="#fffafa"/>
<rect x="91.03" y="263.48" width="15.34" height="15.36" fill="#4747ff"/>
<rect x="105.38" y="263.48" width="15.34" height="15.36" fill="#fff0f0"/>
<rect x="119.72" y="263.48" width="15.34" height="15.36" fill="#ffe0e0"/>
<rect x="134.07" y="263.48" width="15.34" height="15.36" fill="#9999ff"/>
<rect x="148.41" y="263.48" width="15.34" height="15.36" fill="#5c5cff"/>
<rect x="162.76" y="263.48" width="15.34" height="15.36" fill="#a8a8ff"/>
<rect x="177.10" y="263.48" width="15.34" height="15.36" fill="#e6e6ff"/>
<rect x="191.45" y="263.48" width="15.34" height="15.36" fill="#8a8aff"/>
<rect x="205.79" y="263.48" width="15.34" height="15.36" fill="#9494ff"/>
<rect x="220.14" y="263.48" width="15.34" height="15.36" fill="#7575ff"/>
<rect x="234.48" y="263.48" width="15.34" height="15.36" fill="#ff8f8f"/>
<rect x="248.83" y="263.48" width="15.34" height="15.36" fill="#ff9999"/>
<rect x="263.17" y="263.48" width="15.34" height="15.36" fill="#ff6666"/>
<rect x="277.52" y="263.48" width="15.34" height="15.36" fill="#ff5757"/>
<rect x="291.86" y="263.48" width="15.34" height="15.36" fill="#ff5757"/>
<rect x="306.21" y="263.48" width="15.34" height="15.36" fill="#ff0000"/>
<rect x="320.55" y="263.48" width="15.34" height="15.36" fill="#ff8080"/>
<rect x="334.90" y="263.48" width="15.34" height="15.36" fill="#6666ff"/>
<rect x="349.24" y="263.48" width="15.34" height="15.36" fill="#e0e0ff"/>
<rect x="363.59" y="263.48" width="15.34" height="15.36" fill="#ffcccc"/>
<rect x="377.93" y="263.48" width="15.34" height="15.36" fill="#ffcccc"/>
<rect x="392.28" y="263.48" width="15.34" height="15.36" fill="#a8a8ff"/>
<rect x="406.62" y="263.48" width="15.34" height="15.36" fill="#4242ff"/>
<rect x="420.97" y="263.48" width="15.34" height="15.36" fill="#ffe5e5"/>
<rect x="435.31" y="263.48" width="15.34" height="15.36" fill="#fff0f0"/>
<rect x="449.66" y="263.48" width="14.34" height="15.36" fill="#5c5cff"/>
<rect x="48.00" y="277.84" width="15.34" height="15.36" fill="#ffe5e5"/>
<rect x="62.34" y="277.84" width="15.34" height="15.36" fill="#d6d6ff"/>
<rect x="76.69" y="277.84" width="15.34" height="15.36" fill="#fff5f5"/>
<rect x="91.03" y="277.84" width="15.34" height="15.36" fill="#8f8fff"/>
<rect x="105.38" y="277.84" width="15.34" height="15.36" fill="#ffe5e5"/>
<rect x="119.72" y="277.84" width="15.34" height="15.36" fill="#ffe0e0"/>
<rect x="134.07" y="277.84" width="15.34" height="15.36" fill="#a8a8ff"/>
<rect x="148.41" y="277.84" width="15.34" height="15.36" fill="#a3a3ff"/>
<rect x="162.76" y="277.84" width="15.34" height="15.36" fill="#a8a8ff"/>
<rect x="177.10" y="277.84" width="15.34" height="15.36" fill="#fafaff"/>
<rect x="191.45" y="277.84" width="15.34" height="15.36" fill="#bdbdff"/>
<rect x="205.79" y="277.84" width="15.34" height="15.36" fill="#ccccff"/>
<rect x="220.14" y="277.84" width="15.34" height="15.36" fill="#c2c2ff"/>
<rect x="234.48" y="277.84" width="15.34" height="15.36" fill="#ffa3a3"/>
<rect x="248.83" y="277.84" width="15.34" height="15.36" fill="#ffe0e0"/>
<rect x="263.17" y="277.84" width="15.34" height="15.36" fill="#ff8080"/>
<rect x="277.52" y="277.84" width="15.34" height="15.36" fill="#ff8a8a"/>
<rect x="291.86" y="277.84" width="15.34" height="15.36" fill="#ff8a8a"/>
<rect x="306.21" y="277.84" width="15.34" height="15.36" fill="#ff8080"/>
<rect x="320.55" y="277.84" width="15.34" height="15.36" fill="#ff0000"/>
<rect x="334.90" y="277.84" width="15.34" height="15.36" fill="#a3a3ff"/>
<rect x="349.24" y="277.84" width="15.34" height="15.36" fill="#fff5f5"/>
<rect x="363.59" y="277.84" width="15.34" height="15.36" fill="#ffe0e0"/>
<rect x="377.93" y="277.84" width="15.34" height="15.36" fill="#ffe0e0"/>
<rect x="392.28" y="277.84" width="15.34" height="15.36" fill="#ccccff"/>
<rect x="406.62" y="277.84" width="15.34" height="15.36" fill="#bdbdff"/>
<rect x="420.97" y="277.84" width="15.34" height="15.36" fill="#fff0f0"/>
<rect x="435.31" y="277.84" width="15.34" height="15.36" fill="#fff0f0"/>
<rect x="449.66" y="277.84" width="14.34" height="15.36" fill="#a3a3ff"/>
<rect x="48.00" y="292.20" width="15.34" height="15.36" fill="#8f8fff"/>
<rect x="62.34" y="292.20" width="15.34" height="15.36" fill="#fff5f5"/>
<rect x="76.69" y="292.20" width="15.34" height="15.36" fill="#f0f0ff"/>
<rect x="91.03" y="292.20" width="15.34" height="15.36" fill="#ebebff"/>
<rect x="105.38" y="292.20" width="15.34" height="15.36" fill="#e6e6ff"/>
<rect x="119.72" y="292.20" width="15.34" height="15.36" fill="#e6e6ff"/>
<rect x="134.07" y="292.20" width="15.34" height="15.36" fill="#ffb2b2"/>
<rect x="148.41" y="292.20" width="15.34" height="15.36" fill="#ebebff"/>
<rect x="162.76" y="292.20" width="15.34" height="15.36" fill="#b2b2ff"/>
<rect x="177.10" y="292.20" width="15.34" height="15.36" fill="#c2c2ff"/>
<rect x="191.45" y="292.20" width="15.34" height="15.36" fill="#ffa3a3"/>
<rect x="205.79" y="292.20" width="15.34" height="15.36" fill="#ffadad"/>
<rect x="220.14" y="292.20" width="15.34" height="15.36" fill="#ffe5e5"/>
<rect x="234.48" y="292.20" width="15.34" height="15.36" fill="#dbdbff"/>
<rect x="248.83" y="292.20" width="15.34" height="15.36" fill="#ebebff"/>
<rect x="263.17" y="292.20" width="15.34" height="15.36" fill="#8080ff"/>
<rect x="277.52" y="292.20" width="15.34" height="15.36" fill="#8a8aff"/>
<rect x="291.86" y="292.20" width="15.34" height="15.36" fill="#7070ff"/>
<rect x="306.21" y="292.20" width="15.34" height="15.36" fill="#6666ff"/>
<rect x="320.55" y="292.20" width="15.34" height="15.36" fill="#a3a3ff"/>
<rect x="334.90" y="292.20" width="15.34" height="15.36" fill="#ff0000"/>
<rect x="349.24" y="292.20" width="15.34" height="15.36" fill="#dbdbff"/>
<rect x="363.59" y="292.20" width="15.34" height="15.36" fill="#8585ff"/>
<rect x="377.93" y="292.20" width="15.34" height="15.36" fill="#9999ff"/>
<rect x="392.28" y="292.20" width="15.34" height="15.36" fill="#ffffff"/>
<rect x="406.62" y="292.20" width="15.34" height="15.36" fill="#ffa8a8"/>
<rect x="420.97" y="292.20" width="15.34" height="15.36" fill="#8080ff"/>
<rect x="435.31" y="292.20" width="15.34" height="15.36" fill="#b2b2ff"/>
<rect x="449.66" y="292.20" width="14.34" height="15.36" fill="#ffa8a8"/>
<rect x="48.00" y="306.56" width="15.34" height="15.36" fill="#ffd6d6"/>
<rect x="62.34" y="306.56" width="15.34" height="15.36" fill="#fff5f5"/>
<rect x="76.69" y="306.56" width="15.34" height="15.36" fill="#fff0f0"/>
<rect x="91.03" y="306.56" width="15.34" height="15.36" fill="#dbdbff"/>
<rect x="105.38" y="306.56" width="15.34" height="15.36" fill="#ffcccc"/>
<rect x="119.72" y="306.56" width="15.34" height="15.36" fill="#d6d6ff"/>
<rect x="134.07" y="306.56" width="15.34" height="15.36" fill="#ffffff"/>
<rect x="148.41" y="306.56" width="15.34" height="15.36" fill="#dbdbff"/>
<rect x="162.76" y="306.56" width="15.34" height="15.36" fill="#ffc2c2"/>
<rect x="177.10" y="306.56" width="15.34" height="15.36" fill="#ffbdbd"/>
<rect x="191.45" y="306.56" width="15.34" height="15.36" fill="#e6e6ff"/>
<rect x="205.79" y="306.56" width="15.34" height="15.36" fill="#e6e6ff"/>
<rect x="220.14" y="306.56" width="15.34" height="15.36" fill="#ffcccc"/>
<rect x="234.48" y="306.56" width="15.34" height="15.36" fill="#ebebff"/>
<rect x="248.83" y="306.56" width="15.34" height="15.36" fill="#dbdbff"/>
<rect x="263.17" y="306.56" width="15.34" height="15.36" fill="#fff0f0"/>
<rect x="277.52" y="306.56" width="15.34" height="15.36" fill="#e0e0ff"/>
<rect x="291.86" y="306.56" width="15.34" height="15.36" fill="#f0f0ff"/>
<rect x="306.21" y="306.56" width="15.34" height="15.36" fill="#e0e0ff"/>
<rect x="320.55" y="306.56" width="15.34" height="15.36" fill="#fff5f5"/>
<rect x="334.90" y="306.56" width="15.34" height="15.36" fill="#dbdbff"/>
<rect x="349.24" y="306.56" width="15.34" height="15.36" fill="#ff0000"/>
<rect x="363.59" y="306.56" width="15.34" height="15.36" fill="#ffa3a3"/>
<rect x="377.93" y="306.56" width="15.34" height="15.36" fill="#ff8a8a"/>
<rect x="392.28" y="306.56" width="15.34" height="15.36" fill="#ffffff"/>
<rect x="406.62" y="306.56" width="15.34" height="15.36" fill="#f0f0ff"/>
<rect x="420.97" y="306.56" width="15.34" height="15.36" fill="#ffbdbd"/>
<rect x="435.31" y="306.56" width="15.34" height="15.36" fill="#ffa3a3"/>
<rect x="449.66" y="306.56" width="14.34" height="15.36" fill="#e6e6ff"/>
<rect x="48.00" y="320.92" width="15.34" height="15.36" fill="#f0f0ff"/>
<rect x="62.34" y="320.92" width="15.34" height="15.36" fill="#8585ff"/>
<rect x="76.69" y="320.92" width="15.34" height="15.36" fill="#adadff"/>
<rect x="91.03" y="320.92" width="15.34" height="15.36" fill="#5757ff"/>
<rect x="105.38" y="320.92" width="15.34" height="15.36" fill="#ffd6d6"/>
<rect x="119.72" y="320.92" width="15.34" height="15.36" fill="#ccccff"/>
<rect x="134.07" y="320.92" width="15.34" height="15.36" fill="#a3a3ff"/>
<rect x="148.41" y="320.92" width="15.34" height="15.36" fill="#6666ff"/>
<rect x="162.76" y="320.92" width="15.34" height="15.36" fill="#ffffff"/>
<rect x="177.10" y="320.92" width="15.34" height="15.36" fill="#ffdbdb"/>
<rect x="191.45" y="320.92" width="15.34" height="15.36" fill="#6666ff"/>
<rect x="205.79" y="320.92" width="15.34" height="15.36" fill="#5c5cff"/>
<rect x="220.14" y="320.92" width="15.34" height="15.36" fill="#a8a8ff"/>
<rect x="234.48" y="320.92" width="15.34" height="15.36" fill="#dbdbff"/>
<rect x="248.83" y="320.92" width="15.34" height="15.36" fill="#b2b2ff"/>
<rect x="263.17" y="320.92" width="15.34" height="15.36" fill="#ffcccc"/>
<rect x="277.52" y="320.92" width="15.34" height="15.36" fill="#ffcccc"/>
<rect x="291.86" y="320.92" width="15.34" height="15.36" fill="#ffadad"/>
<rect x="306.21" y="320.92" width="15.34" height="15.36" fill="#ffcccc"/>
<rect x="320.55" y="320.92" width="15.34" height="15.36" fill="#ffe0e0"/>
<rect x="334.90" y="320.92" width="15.34" height="15.36" fill="#8585ff"/>
<rect x="349.24" y="320.92" width="15.34" height="15.36" fill="#ffa3a3"/>
<rect x="363.59" y="320.92" width="15.34" height="15.36" fill="#ff0000"/>
<rect x="377.93" y="320.92" width="15.34" height="15.36" fill="#ff6666"/>
<rect x="392.28" y="320.92" width="15.34" height="15.36" fill="#9494ff"/>
<rect x="406.62" y="320.92" width="15.34" height="15.36" fill="#9999ff"/>
<rect x="420.97" y="320.92" width="15.34" height="15.36" fill="#ff6666"/>
<rect x="435.31" y="320.92" width="15.34" height="15.36" fill="#ffd6d6"/>
<rect x="449.66" y="320.92" width="14.34" height="15.36" fill="#a8a8ff"/>
<rect x="48.00" y="335.28" width="15.34" height="15.36" fill="#ffffff"/>
<rect x="62.34" y="335.28" width="15.34" height="15.36" fill="#b8b8ff"/>
<rect x="76.69" y="335.28" width="15.34" height="15.36" fill="#f0f0ff"/>
<rect x="91.03" y="335.28" width="15.34" height="15.36" fill="#8f8fff"/>
<rect x="105.38" y="335.28" width="15.34" height="15.36" fill="#ffc2c2"/>
<rect x="119.72" y="335.28" width="15.34" height="15.36" fill="#ebebff"/>
<rect x="134.07" y="335.28" width="15.34" height="15.36" fill="#d6d6ff"/>
<rect x="148.41" y="335.28" width="15.34" height="15.36" fill="#8f8fff"/>
<rect x="162.76" y="335.28" width="15.34" height="15.36" fill="#ffbdbd"/>
<rect x="177.10" y="335.28" width="15.34" height="15.36" fill="#ffc2c2"/>
<rect x="191.45" y="335.28" width="15.34" height="15.36" fill="#9999ff"/>
<rect x="205.79" y="335.28" width="15.34" height="15.36" fill="#9999ff"/>
<rect x="220.14" y="335.28" width="15.34" height="15.36" fill="#dbdbff"/>
<rect x="234.48" y="335.28" width="15.34" height="15.36" fill="#e6e6ff"/>
<rect x="248.83" y="335.28" width="15.34" height="15.36" fill="#d6d6ff"/>
<rect x="263.17" y="335.28" width="15.34" height="15.36" fill="#ffcccc"/>
<rect x="277.52" y="335.28" width="15.34" height="15.36" fill="#ffc2c2"/>
<rect x="291.86" y="335.28" width="15.34" height="15.36" fill="#ffadad"/>
<rect x="306.21" y="335.28" width="15.34" height="15.36" fill="#ffcccc"/>
<rect x="320.55" y="335.28" width="15.34" height="15.36" fill="#ffe0e0"/>
<rect x="334.90" y="335.28" width="15.34" height="15.36" fill="#9999ff"/>
<rect x="349.24" y="335.28" width="15.34" height="15.36" fill="#ff8a8a"/>
<rect x="363.59" y="335.28" width="15.34" height="15.36" fill="#ff6666"/>
<rect x="377.93" y="335.28" width="15.34" height="15.36" fill="#ff0000"/>
<rect x="392.28" y="335.28" width="15.34" height="15.36" fill="#d6d6ff"/>
<rect x="406.62" y="335.28" width="15.34" height="15.36" fill="#a3a3ff"/>
<rect x="420.97" y="335.28" width="15.34" height="15.36" fill="#ff7070"/>
<rect x="435.31" y="335.28" width="15.34" height="15.36" fill="#ffbdbd"/>
<rect x="449.66" y="335.28" width="14.34" height="15.36" fill="#c2c2ff"/>
<rect x="48.00" y="349.64" width="15.34" height="15.36" fill="#ffd6d6"/>
<rect x="62.34" y="349.64" width="15.34" height="15.36" fill="#ffcccc"/>
<rect x="76.69" y="349.64" width="15.34" height="15.36" fill="#ffc2c2"/>
<rect x="91.03" y="349.64" width="15.34" height="15.36" fill="#ffd6d6"/>
<rect x="105.38" y="349.64" width="15.34" height="15.36" fill="#fafaff"/>
<rect x="119.72" y="349.64" width="15.34" height="15.36" fill="#ebebff"/>
<rect x="134.07" y="349.64" width="15.34" height="15.36" fill="#ffcccc"/>
<rect x="148.41" y="349.64" width="15.34" height="15.36" fill="#ffbdbd"/>
<rect x="162.76" y="349.64" width="15.34" height="15.36" fill="#ffe0e0"/>
<rect x="177.10" y="349.64" width="15.34" height="15.36" fill="#ffcccc"/>
<rect x="191.45" y="349.64" width="15.34" height="15.36" fill="#ffe5e5"/>
<rect x="205.79" y="349.64" width="15.34" height="15.36" fill="#ff9999"/>
<rect x="220.14" y="349.64" width="15.34" height="15.36" fill="#ffbdbd"/>
<rect x="234.48" y="349.64" width="15.34" height="15.36" fill="#dbdbff"/>
<rect x="248.83" y="349.64" width="15.34" height="15.36" fill="#fffafa"/>
<rect x="263.17" y="349.64" width="15.34" height="15.36" fill="#ccccff"/>
<rect x="277.52" y="349.64" width="15.34" height="15.36" fill="#8080ff"/>
<rect x="291.86" y="349.64" width="15.34" height="15.36" fill="#bdbdff"/>
<rect x="306.21" y="349.64" width="15.34" height="15.36" fill="#a8a8ff"/>
<rect x="320.55" y="349.64" width="15.34" height="15.36" fill="#ccccff"/>
<rect x="334.90" y="349.64" width="15.34" height="15.36" fill="#ffffff"/>
<rect x="349.24" y="349.64" width="15.34" height="15.36" fill="#ffffff"/>
<rect x="363.59" y="349.64" width="15.34" height="15.36" fill="#9494ff"/>
<rect x="377.93" y="349.64" width="15.34" height="15.36" fill="#d6d6ff"/>
<rect x="392.28" y="349.64" width="15.34" height="15.36" fill="#ff0000"/>
<rect x="406.62" y="349.64" width="15.34" height="15.36" fill="#ffd6d6"/>
<rect x="420.97" y="349.64" width="15.34" height="15.36" fill="#a3a3ff"/>
<rect x="435.31" y="349.64" width="15.34" height="15.36" fill="#ffd6d6"/>
<rect x="449.66" y="349.64" width="14.34" height="15.36" fill="#ffffff"/>
<rect x="48.00" y="364.00" width="15.34" height="15.36" fill="#fff0f0"/>
<rect x="62.34" y="364.00" width="15.34" height="15.36" fill="#ffd6d6"/>
<rect x="76.69" y="364.00" width="15.34" height="15.36" fill="#dbdbff"/>
<rect x="91.03" y="364.00" width="15.34" height="15.36" fill="#ffebeb"/>
<rect x="105.38" y="364.00" width="15.34" height="15.36" fill="#dbdbff"/>
<rect x="119.72" y="364.00" width="15.34" height="15.36" fill="#c2c2ff"/>
<rect x="134.07" y="364.00" width="15.34" height="15.36" fill="#ffa3a3"/>
<rect x="148.41" y="364.00" width="15.34" height="15.36" fill="#ffd6d6"/>
<rect x="162.76" y="364.00" width="15.34" height="15.36" fill="#d6d6ff"/>
<rect x="177.10" y="364.00" width="15.34" height="15.36" fill="#ebebff"/>
<rect x="191.45" y="364.00" width="15.34" height="15.36" fill="#ffe5e5"/>
<rect x="205.79" y="364.00" width="15.34" height="15.36" fill="#ffc2c2"/>
<rect x="220.14" y="364.00" width="15.34" height="15.36" fill="#ffcccc"/>
<rect x="234.48" y="364.00" width="15.34" height="15.36" fill="#8585ff"/>
<rect x="248.83" y="364.00" width="15.34" height="15.36" fill="#8f8fff"/>
<rect x="263.17" y="364.00" width="15.34" height="15.36" fill="#9999ff"/>
<rect x="277.52" y="364.00" width="15.34" height="15.36" fill="#5757ff"/>
<rect x="291.86" y="364.00" width="15.34" height="15.36" fill="#3d3dff"/>
<rect x="306.21" y="364.00" width="15.34" height="15.36" fill="#4242ff"/>
<rect x="320.55" y="364.00" width="15.34" height="15.36" fill="#bdbdff"/>
<rect x="334.90" y="364.00" width="15.34" height="15.36" fill="#ffa8a8"/>
<rect x="349.24" y="364.00" width="15.34" height="15.36" fill="#f0f0ff"/>
<rect x="363.59" y="364.00" width="15.34" height="15.36" fill="#9999ff"/>
<rect x="377.93" y="364.00" width="15.34" height="15.36" fill="#a3a3ff"/>
<rect x="392.28" y="364.00" width="15.34" height="15.36" fill="#ffd6d6"/>
<rect x="406.62" y="364.00" width="15.34" height="15.36" fill="#ff0000"/>
<rect x="420.97" y="364.00" width="15.34" height="15.36" fill="#a3a3ff"/>
<rect x="435.31" y="364.00" width="15.34" height="15.36" fill="#e6e6ff"/>
<rect x="449.66" y="364.00" width="14.34" height="15.36" fill="#ff9999"/>
<rect x="48.00" y="378.36" width="15.34" height="15.36" fill="#fff5f5"/>
<rect x="62.34" y="378.36" width="15.34" height="15.36" fill="#8585ff"/>
<rect x="76.69" y="378.36" width="15.34" height="15.36" fill="#ccccff"/>
<rect x="91.03" y="378.36" width="15.34" height="15.36" fill="#7070ff"/>
<rect x="105.38" y="378.36" width="15.34" height="15.36" fill="#ffffff"/>
<rect x="119.72" y="378.36" width="15.34" height="15.36" fill="#c2c2ff"/>
<rect x="134.07" y="378.36" width="15.34" height="15.36" fill="#a8a8ff"/>
<rect x="148.41" y="378.36" width="15.34" height="15.36" fill="#8080ff"/>
<rect x="162.76" y="378.36" width="15.34" height="15.36" fill="#ffffff"/>
<rect x="177.10" y="378.36" width="15.34" height="15.36" fill="#ffebeb"/>
<rect x="191.45" y="378.36" width="15.34" height="15.36" fill="#5c5cff"/>
<rect x="205.79" y="378.36" width="15.34" height="15.36" fill="#6666ff"/>
<rect x="220.14" y="378.36" width="15.34" height="15.36" fill="#c2c2ff"/>
<rect x="234.48" y="378.36" width="15.34" height="15.36" fill="#dbdbff"/>
<rect x="248.83" y="378.36" width="15.34" height="15.36" fill="#c2c2ff"/>
<rect x="263.17" y="378.36" width="15.34" height="15.36" fill="#ffd6d6"/>
<rect x="277.52" y="378.36" width="15.34" height="15.36" fill="#ffcccc"/>
<rect x="291.86" y="378.36" width="15.34" height="15.36" fill="#ffb8b8"/>
<rect x="306.21" y="378.36" width="15.34" height="15.36" fill="#ffe5e5"/>
<rect x="320.55" y="378.36" width="15.34" height="15.36" fill="#fff0f0"/>
<rect x="334.90" y="378.36" width="15.34" height="15.36" fill="#8080ff"/>
<rect x="349.24" y="378.36" width="15.34" height="15.36" fill="#ffbdbd"/>
<rect x="363.59" y="378.36" width="15.34" height="15.36" fill="#ff6666"/>
<rect x="377.93" y="378.36" width="15.34" height="15.36" fill="#ff7070"/>
<rect x="392.28" y="378.36" width="15.34" height="15.36" fill="#a3a3ff"/>
<rect x="406.62" y="378.36" width="15.34" height="15.36" fill="#a3a3ff"/>
<rect x="420.97" y="378.36" width="15.34" height="15.36" fill="#ff0000"/>
<rect x="435.31" y="378.36" width="15.34" height="15.36" fill="#ffd6d6"/>
<rect x="449.66" y="378.36" width="14.34" height="15.36" fill="#a8a8ff"/>
<rect x="48.00" y="392.72" width="15.34" height="15.36" fill="#ff5c5c"/>
<rect x="62.34" y="392.72" width="15.34" height="15.36" fill="#ffe0e0"/>
<rect x="76.69" y="392.72" width="15.34" height="15.36" fill="#ffc2c2"/>
<rect x="91.03" y="392.72" width="15.34" height="15.36" fill="#ffebeb"/>
<rect x="105.38" y="392.72" width="15.34" height="15.36" fill="#ffebeb"/>
<rect x="119.72" y="392.72" width="15.34" height="15.36" fill="#e6e6ff"/>
<rect x="134.07" y="392.72" width="15.34" height="15.36" fill="#f0f0ff"/>
<rect x="148.41" y="392.72" width="15.34" height="15.36" fill="#ffd6d6"/>
<rect x="162.76" y="392.72" width="15.34" height="15.36" fill="#ffadad"/>
<rect x="177.10" y="392.72" width="15.34" height="15.36" fill="#ff6666"/>
<rect x="191.45" y="392.72" width="15.34" height="15.36" fill="#d6d6ff"/>
<rect x="205.79" y="392.72" width="15.34" height="15.36" fill="#fffafa"/>
<rect x="220.14" y="392.72" width="15.34" height="15.36" fill="#ffcccc"/>
<rect x="234.48" y="392.72" width="15.34" height="15.36" fill="#fafaff"/>
<rect x="248.83" y="392.72" width="15.34" height="15.36" fill="#fffafa"/>
<rect x="263.17" y="392.72" width="15.34" height="15.36" fill="#ffcccc"/>
<rect x="277.52" y="392.72" width="15.34" height="15.36" fill="#f5f5ff"/>
<rect x="291.86" y="392.72" width="15.34" height="15.36" fill="#ffe5e5"/>
<rect x="306.21" y="392.72" width="15.34" height="15.36" fill="#fff0f0"/>
<rect x="320.55" y="392.72" width="15.34" height="15.36" fill="#fff0f0"/>
<rect x="334.90" y="392.72" width="15.34" height="15.36" fill="#b2b2ff"/>
<rect x="349.24" y="392.72" width="15.34" height="15.36" fill="#ffa3a3"/>
<rect x="363.59" y="392.72" width="15.34" height="15.36" fill="#ffd6d6"/>
<rect x="377.93" y="392.72" width="15.34" height="15.36" fill="#ffbdbd"/>
<rect x="392.28" y="392.72" width="15.34" height="15.36" fill="#ffd6d6"/>
<rect x="406.62" y="392.72" width="15.34" height="15.36" fill="#e6e6ff"/>
<rect x="420.97" y="392.72" width="15.34" height="15.36" fill="#ffd6d6"/>
<rect x="435.31" y="392.72" width="15.34" height="15.36" fill="#ff0000"/>
<rect x="449.66" y="392.72" width="14.34" height="15.36" fill="#adadff"/>
<rect x="48.00" y="407.08" width="15.34" height="14.36" fill="#e6e6ff"/>
<rect x="62.34" y="407.08" width="15.34" height="14.36" fill="#ffffff"/>
<rect x="76.69" y="407.08" width="15.34" height="14.36" fill="#ccccff"/>
<rect x="91.03" y="407.08" width="15.34" height="14.36" fill="#fff5f5"/>
<rect x="105.38" y="407.08" width="15.34" height="14.36" fill="#ccccff"/>
<rect x="119.72" y="407.08" width="15.34" height="14.36" fill="#e6e6ff"/>
<rect x="134.07" y="407.08" width="15.34" height="14.36" fill="#ffb2b2"/>
<rect x="148.41" y="407.08" width="15.34" height="14.36" fill="#ccccff"/>
<rect x="162.76" y="407.08" width="15.34" height="14.36" fill="#bdbdff"/>
<rect x="177.10" y="407.08" width="15.34" height="14.36" fill="#d6d6ff"/>
<rect x="191.45" y="407.08" width="15.34" height="14.36" fill="#ffd6d6"/>
<rect x="205.79" y="407.08" width="15.34" height="14.36" fill="#fff0f0"/>
<rect x="220.14" y="407.08" width="15.34" height="14.36" fill="#fff5f5"/>
<rect x="234.48" y="407.08" width="15.34" height="14.36" fill="#8a8aff"/>
<rect x="248.83" y="407.08" width="15.34" height="14.36" fill="#8f8fff"/>
<rect x="263.17" y="407.08" width="15.34" height="14.36" fill="#6666ff"/>
<rect x="277.52" y="407.08" width="15.34" height="14.36" fill="#5c5cff"/>
<rect x="291.86" y="407.08" width="15.34" height="14.36" fill="#4c4cff"/>
<rect x="306.21" y="407.08" width="15.34" height="14.36" fill="#5c5cff"/>
<rect x="320.55" y="407.08" width="15.34" height="14.36" fill="#a3a3ff"/>
<rect x="334.90" y="407.08" width="15.34" height="14.36" fill="#ffa8a8"/>
<rect x="349.24" y="407.08" width="15.34" height="14.36" fill="#e6e6ff"/>
<rect x="363.59" y="407.08" width="15.34" height="14.36" fill="#a8a8ff"/>
<rect x="377.93" y="407.08" width="15.34" height="14.36" fill="#c2c2ff"/>
<rect x="392.28" y="407.08" width="15.34" height="14.36" fill="#ffffff"/>
<rect x="406.62" y="407.08" width="15.34" height="14.36" fill="#ff9999"/>
<rect x="420.97" y="407.08" width="15.34" height="14.36" fill="#a8a8ff"/>
<rect x="435.31" y="407.08" width="15.34" height="14.36" fill="#adadff"/>
<rect x="449.66" y="407.08" width="14.34" height="14.36" fill="#ff0000"/>
<path d="M55.17 421.00v-5M55.17 5.00v5M48.00 12.58h5M464.00 12.58h-5M69.52 421.00v-5M69.52 5.00v5M48.00 26.94h5M464.00 26.94h-5M83.86 421.00v-5M83.86 5.00v5M48.00 41.30h5M464.00 41.30h-5M98.21 421.00v-5M98.21 5.00v5M48.00 55.66h5M464.00 55.66h-5M112.55 421.00v-5M112.55 5.00v5M48.00 70.02h5M464.00 70.02h-5M126.90 421.00v-5M126.90 5.00v5M48.00 84.38h5M464.00 84.38h-5M141.24 421.00v-5M141.24 5.00v5M48.00 98.74h5M464.00 98.74h-5M155.59 421.00v-5M155.59 5.00v5M48.00 113.10h5M464.00 113.10h-5M169.93 421.00v-5M169.93 5.00v5M48.00 127.46h5M464.00 127.46h-5M184.28 421.00v-5M184.28 5.00v5M48.00 141.82h5M464.00 141.82h-5M198.62 421.00v-5M198.62 5.00v5M48.00 156.18h5M464.00 156.18h-5M212.97 421.00v-5M212.97 5.00v5M48.00 170.54h5M464.00 170.54h-5M227.31 421.00v-5M227.31 5.00v5M48.00 184.90h5M464.00 184.90h-5M241.66 421.00v-5M241.66 5.00v5M48.00 199.26h5M464.00 199.26h-5M256.00 421.00v-5M256.00 5.00v5M48.00 213.62h5M464.00 213.62h-5M270.34 421.00v-5M270.34 5.00v5M48.00 227.98h5M464.00 227.98h-5M284.69 421.00v-5M284.69 5.00v5M48.00 242.34h5M464.00 242.34h-5M299.03 421.00v-5M299.03 5.00v5M48.00 256.70h5M464.00 256.70h-5M313.38 421.00v-5M313.38 5.00v5M48.00 271.06h5M464.00 271.06h-5M327.72 421.00v-5M327.72 5.00v5M48.00 285.42h5M464.00 285.42h-5M342.07 421.00v-5M342.07 5.00v5M48.00 299.78h5M464.00 299.78h-5M356.41 421.00v-5M356.41 5.00v5M48.00 314.14h5M464.00 314.14h-5M370.76 421.00v-5M370.76 5.00v5M48.00 328.50h5M464.00 328.50h-5M385.10 421.00v-5M385.10 5.00v5M48.00 342.86h5M464.00 342.86h-5M399.45 421.00v-5M399.45 5.00v5M48.00 357.22h5M464.00 357.22h-5M413.79 421.00v-5M413.79 5.00v5M48.00 371.58h5M464.00 371.58h-5M428.14 421.00v-5M428.14 5.00v5M48.00 385.94h5M464.00 385.94h-5M442.48 421.00v-5M442.48 5.00v5M48.00 400.30h5M464.00 400.30h-5M456.83 421.00v-5M456.83 5.00v5M48.00 414.66h5M464.00 414.66h-5" stroke="#000" stroke-width="1" fill="none"/>
<rect x="48.5" y="5.5" width="415.2" height="415.7" fill="none" stroke="#222" stroke-width="1"/>
<text transform="translate(34.7,16.58) scale(0.915,1)" text-anchor="end">BPLL1</text>
<text transform="translate(34.7,30.94) scale(0.915,1)" text-anchor="end">BPLL2</text>
<text transform="translate(34.7,45.30) scale(0.915,1)" text-anchor="end">BPLL3</text>
<text transform="translate(34.7,59.66) scale(0.915,1)" text-anchor="end">BPLL4</text>
<text transform="translate(34.7,74.02) scale(0.915,1)" text-anchor="end">BPLL5</text>
<text transform="translate(34.7,88.38) scale(0.915,1)" text-anchor="end">BPLL6</text>
<text transform="translate(34.7,102.74) scale(0.915,1)" text-anchor="end">BPLL7</text>
<text transform="translate(34.7,117.10) scale(0.915,1)" text-anchor="end">BPLL8</text>
<text transform="translate(34.7,131.46) scale(0.915,1)" text-anchor="end">BPLL9</text>
<text transform="translate(34.7,145.82) scale(0.915,1)" text-anchor="end">BPLL10</text>
<text transform="translate(34.7,160.18) scale(0.915,1)" text-anchor="end">BPLL11</text>
<text transform="translate(34.7,174.54) scale(0.915,1)" text-anchor="end">BPLL12</text>
<text transform="translate(34.7,188.90) scale(0.915,1)" text-anchor="end">BPLL13</text>
<text transform="translate(34.7,203.26) scale(0.915,1)" text-anchor="end">CLL1</text>
<text transform="translate(34.7,217.62) scale(0.915,1)" text-anchor="end">CLL2</text>
<text transform="translate(34.7,231.98) scale(0.915,1)" text-anchor="end">CLL3</text>
<text transform="translate(34.7,246.34) scale(0.915,1)" text-anchor="end">CLL4</text>
<text transform="translate(34.7,260.70) scale(0.915,1)" text-anchor="end">CLL5</text>
<text transform="translate(34.7,275.06) scale(0.915,1)" text-anchor="end">CLL6</text>
<text transform="translate(34.7,289.42) scale(0.915,1)" text-anchor="end">CLL7</text>
<text transform="translate(34.7,303.78) scale(0.915,1)" text-anchor="end">MCL1</text>
<text transform="translate(34.7,318.14) scale(0.915,1)" text-anchor="end">MCL2</text>
<text transform="translate(34.7,332.50) scale(0.915,1)" text-anchor="end">MCL3</text>
<text transform="translate(34.7,346.86) scale(0.915,1)" text-anchor="end">MCL4</text>
<text transform="translate(34.7,361.22) scale(0.915,1)" text-anchor="end">MCL5</text>
<text transform="translate(34.7,375.58) scale(0.915,1)" text-anchor="end">MCL6</text>
<text transform="translate(34.7,389.94) scale(0.915,1)" text-anchor="end">MCL7</text>
<text transform="translate(34.7,404.30) scale(0.915,1)" text-anchor="end">MCL8</text>
<text transform="translate(34.7,418.66) scale(0.915,1)" text-anchor="end">MCL9</text>
<text transform="translate(57.47,429.7) rotate(-90) scale(0.94,0.92)" text-anchor="end" font-size="10">BPLL1</text>
<text transform="translate(71.82,429.7) rotate(-90) scale(0.94,0.92)" text-anchor="end" font-size="10">BPLL2</text>
<text transform="translate(86.16,429.7) rotate(-90) scale(0.94,0.92)" text-anchor="end" font-size="10">BPLL3</text>
<text transform="translate(100.51,429.7) rotate(-90) scale(0.94,0.92)" text-anchor="end" font-size="10">BPLL4</text>
<text transform="translate(114.85,429.7) rotate(-90) scale(0.94,0.92)" text-anchor="end" font-size="10">BPLL5</text>
<text transform="translate(129.20,429.7) rotate(-90) scale(0.94,0.92)" text-anchor="end" font-size="10">BPLL6</text>
<text transform="translate(143.54,429.7) rotate(-90) scale(0.94,0.92)" text-anchor="end" font-size="10">BPLL7</text>
<text transform="translate(157.89,429.7) rotate(-90) scale(0.94,0.92)" text-anchor="end" font-size="10">BPLL8</text>
<text transform="translate(172.23,429.7) rotate(-90) scale(0.94,0.92)" text-anchor="end" font-size="10">BPLL9</text>
<text transform="translate(186.58,429.7) rotate(-90) scale(0.94,0.92)" text-anchor="end" font-size="10">BPLL10</text>
<text transform="translate(200.92,429.7) rotate(-90) scale(0.94,0.92)" text-anchor="end" font-size="10">BPLL11</text>
<text transform="translate(215.27,429.7) rotate(-90) scale(0.94,0.92)" text-anchor="end" font-size="10">BPLL12</text>
<text transform="translate(229.61,429.7) rotate(-90) scale(0.94,0.92)" text-anchor="end" font-size="10">BPLL13</text>
<text transform="translate(243.96,429.7) rotate(-90) scale(0.94,0.92)" text-anchor="end" font-size="10">CLL1</text>
<text transform="translate(258.30,429.7) rotate(-90) scale(0.94,0.92)" text-anchor="end" font-size="10">CLL2</text>
<text transform="translate(272.64,429.7) rotate(-90) scale(0.94,0.92)" text-anchor="end" font-size="10">CLL3</text>
<text transform="translate(286.99,429.7) rotate(-90) scale(0.94,0.92)" text-anchor="end" font-size="10">CLL4</text>
<text transform="translate(301.33,429.7) rotate(-90) scale(0.94,0.92)" text-anchor="end" font-size="10">CLL5</text>
<text transform="translate(315.68,429.7) rotate(-90) scale(0.94,0.92)" text-anchor="end" font-size="10">CLL6</text>
<text transform="translate(330.02,429.7) rotate(-90) scale(0.94,0.92)" text-anchor="end" font-size="10">CLL7</text>
<text transform="translate(344.37,429.7) rotate(-90) scale(0.94,0.92)" text-anchor="end" font-size="10">MCL1</text>
<text transform="translate(358.71,429.7) rotate(-90) scale(0.94,0.92)" text-anchor="end" font-size="10">MCL2</text>
<text transform="translate(373.06,429.7) rotate(-90) scale(0.94,0.92)" text-anchor="end" font-size="10">MCL3</text>
<text transform="translate(387.40,429.7) rotate(-90) scale(0.94,0.92)" text-anchor="end" font-size="10">MCL4</text>
<text transform="translate(401.75,429.7) rotate(-90) scale(0.94,0.92)" text-anchor="end" font-size="10">MCL5</text>
<text transform="translate(416.09,429.7) rotate(-90) scale(0.94,0.92)" text-anchor="end" font-size="10">MCL6</text>
<text transform="translate(430.44,429.7) rotate(-90) scale(0.94,0.92)" text-anchor="end" font-size="10">MCL7</text>
<text transform="translate(444.78,429.7) rotate(-90) scale(0.94,0.92)" text-anchor="end" font-size="10">MCL8</text>
<text transform="translate(459.13,429.7) rotate(-90) scale(0.94,0.92)" text-anchor="end" font-size="10">MCL9</text>
<defs><linearGradient id="g" x1="0" y1="0" x2="0" y2="1"><stop offset="0" stop-color="#ff0000"/><stop offset="0.5" stop-color="#ffffff"/><stop offset="1" stop-color="#0000ff"/></linearGradient></defs>
<rect x="475.4" y="5.0" width="24.30" height="416.0" fill="url(#g)"/>
<path d="M475.4 421.00h4M499.7 421.00h-4M475.4 379.40h4M499.7 379.40h-4M475.4 337.80h4M499.7 337.80h-4M475.4 296.20h4M499.7 296.20h-4M475.4 254.60h4M499.7 254.60h-4M475.4 213.00h4M499.7 213.00h-4M475.4 171.40h4M499.7 171.40h-4M475.4 129.80h4M499.7 129.80h-4M475.4 88.20h4M499.7 88.20h-4M475.4 46.60h4M499.7 46.60h-4M475.4 5.00h4M499.7 5.00h-4" stroke="#444" stroke-width="1" fill="none"/>
<rect x="475.4" y="5.0" width="24.30" height="416.0" fill="none" stroke="#444" stroke-width="1"/>
<text x="502.3" y="425.62" font-size="11.5" style="stroke-width:0.15px">0</text>
<text x="502.3" y="384.02" font-size="11.5" style="stroke-width:0.15px">0.1</text>
<text x="502.3" y="342.42" font-size="11.5" style="stroke-width:0.15px">0.2</text>
<text x="502.3" y="300.82" font-size="11.5" style="stroke-width:0.15px">0.3</text>
<text x="502.3" y="259.22" font-size="11.5" style="stroke-width:0.15px">0.4</text>
<text x="502.3" y="217.62" font-size="11.5" style="stroke-width:0.15px">0.5</text>
<text x="502.3" y="176.02" font-size="11.5" style="stroke-width:0.15px">0.6</text>
<text x="502.3" y="134.42" font-size="11.5" style="stroke-width:0.15px">0.7</text>
<text x="502.3" y="92.82" font-size="11.5" style="stroke-width:0.15px">0.8</text>
<text x="502.3" y="51.22" font-size="11.5" style="stroke-width:0.15px">0.9</text>
<text x="502.3" y="9.62" font-size="11.5" style="stroke-width:0.15px">1</text>
</svg>
</body></html>
